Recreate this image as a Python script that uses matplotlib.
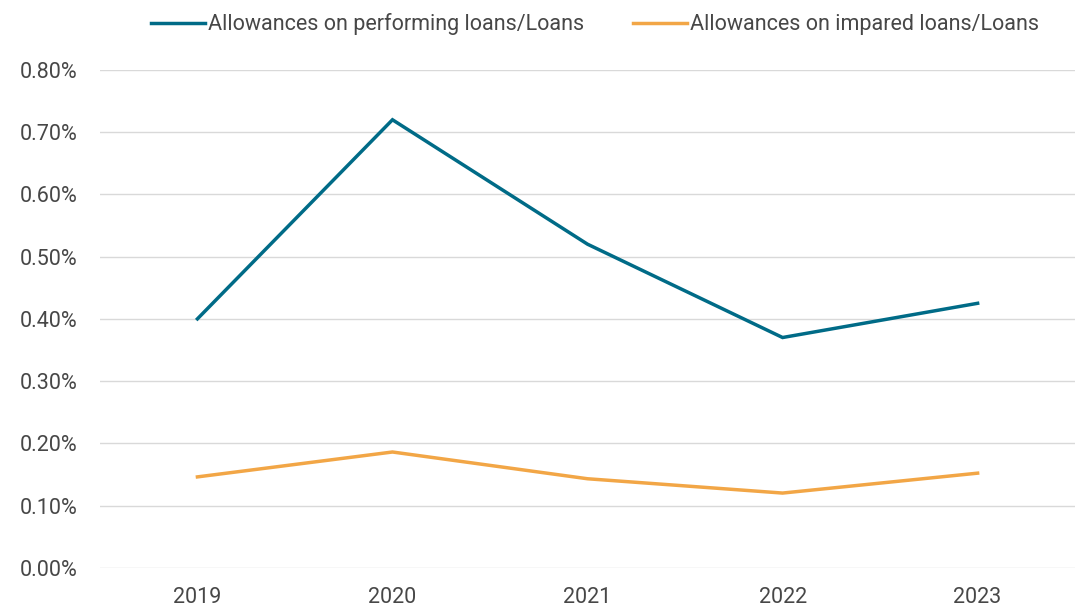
import matplotlib
matplotlib.use("Agg")
import matplotlib.pyplot as plt
from matplotlib.ticker import FuncFormatter

years = ["2019", "2020", "2021", "2022", "2023"]
performing = [0.40, 0.72, 0.52, 0.37, 0.425]
impaired = [0.146, 0.186, 0.143, 0.120, 0.152]
yticks = [0.0, 0.1, 0.2, 0.3, 0.4, 0.5, 0.6, 0.7, 0.8]

teal = "#006B87"
orange = "#F2A646"
text_color = "#474747"

plt.rcParams["font.family"] = ["Roboto", "DejaVu Sans"]

fig = plt.figure(figsize=(10.86, 6.07), dpi=100)
ax = fig.add_axes([0.092, 0.0647, 0.898, 0.82])

x = range(len(years))
ax.plot(x, performing, color=teal, lw=2.5, label="Allowances on performing loans/Loans",
        solid_joinstyle="miter", zorder=3)
ax.plot(x, impaired, color=orange, lw=2.5, label="Allowances on impared loans/Loans",
        solid_joinstyle="miter", zorder=3)

ax.set_xlim(-0.5, len(years) - 0.5)
ax.set_ylim(0, 0.8)
ax.set_yticks(yticks)
ax.yaxis.set_major_formatter(FuncFormatter(lambda v, _: f"{v:.2f}%"))
ax.set_xticks(list(x))
ax.set_xticklabels(years)

ax.grid(axis="y", color="#D9D9D9", lw=1)
ax.set_axisbelow(True)
for s in ax.spines.values():
    s.set_visible(False)
ax.tick_params(length=0, labelsize=15.5, colors=text_color)
ax.tick_params(axis="x", pad=14)
ax.tick_params(axis="y", pad=16)

leg = fig.legend(loc="upper center", bbox_to_anchor=(0.548, 1.01), ncol=2, frameon=False,
                 fontsize=15.5, handlelength=2.5, handletextpad=0.15, columnspacing=2.3)
for t in leg.get_texts():
    t.set_color(text_color)

fig.savefig("out.png", dpi=100)
